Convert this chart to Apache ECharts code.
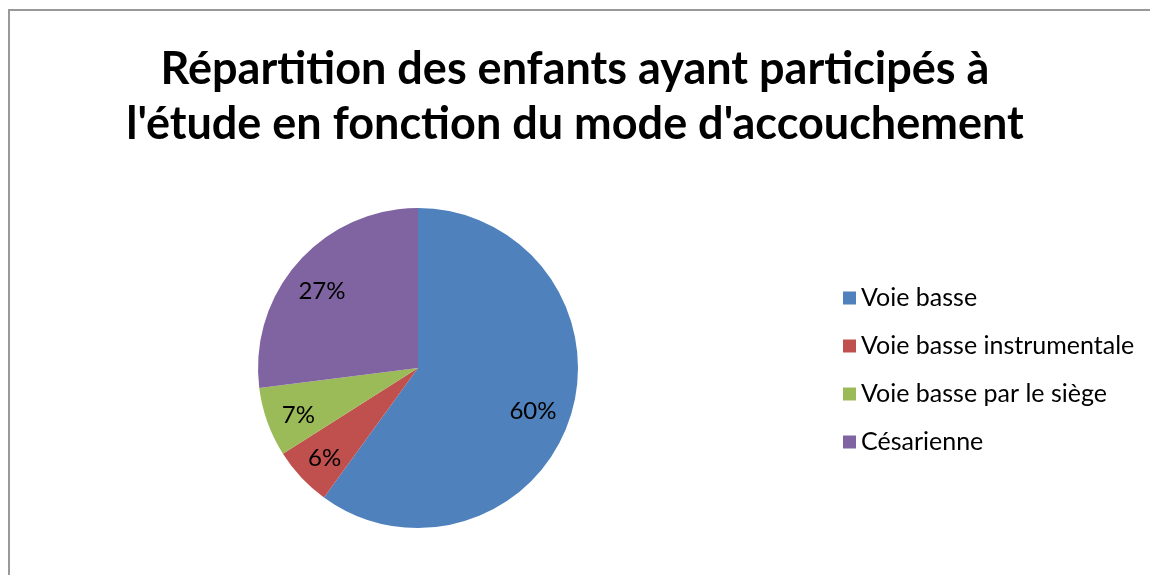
<!DOCTYPE html>
<html>
<head>
<meta charset="utf-8">
<script src="https://cdn.jsdelivr.net/npm/echarts@6/dist/echarts.min.js"></script>
<style>
  html, body { margin: 0; padding: 0; background: #fff; }
  #chart { width: 1150px; height: 575px; }
</style>
</head>
<body>
<div id="chart"></div>
<script>
// catégories et valeurs (%)
var categories = ['Voie basse', 'Voie basse instrumentale', 'Voie basse par le siège', 'Césarienne'];
var values = [60, 6, 7, 27];
var colors = ['#4F81BD', '#C0504D', '#9BBB59', '#8064A2'];
var titleText = 'Répartition des enfants ayant participés à\nl\'étude en fonction du mode d\'accouchement';

var pieData = categories.map(function (name, i) {
  return { name: name, value: values[i] };
});

var chart = echarts.init(document.getElementById('chart'), null, { renderer: 'canvas' });

var option = {
  color: colors,
  animation: false,
  title: {
    text: titleText,
    left: 'center',
    top: 37,
    textStyle: {
      fontFamily: 'Lato',
      fontWeight: 'bold',
      fontSize: 45,
      lineHeight: 55,
      color: '#000'
    }
  },
  legend: {
    orient: 'vertical',
    left: 838,
    top: 280,
    itemWidth: 13,
    itemHeight: 13,
    itemGap: 22,
    icon: 'rect',
    textStyle: {
      fontFamily: 'Lato',
      fontSize: 25,
      lineHeight: 26,
      color: '#000'
    },
    data: categories
  },
  // cadre gris (haut et gauche visibles)
  graphic: [{
    type: 'rect',
    shape: { x: 9, y: 10, width: 1160, height: 600 },
    style: { fill: 'none', stroke: '#999', lineWidth: 2 },
    silent: true
  }],
  series: [{
    name: 'mode',
    type: 'pie',
    center: [418, 368],
    radius: [0, 160],
    startAngle: 90,
    clockwise: true,
    label: { show: false },
    labelLine: { show: false },
    data: pieData
  }, {
    // série transparente pour placer les étiquettes
    name: 'labels',
    type: 'pie',
    center: [418, 368],
    radius: [82, 160],
    startAngle: 90,
    clockwise: true,
    silent: true,
    itemStyle: { color: 'rgba(0,0,0,0)' },
    label: {
      show: true,
      position: 'inside',
      formatter: '{c}%',
      fontFamily: 'Lato',
      fontSize: 24,
      color: '#000',
      offset: [-3, 5]
    },
    labelLine: { show: false },
    data: pieData
  }]
};

chart.setOption(option);
</script>
</body>
</html>
